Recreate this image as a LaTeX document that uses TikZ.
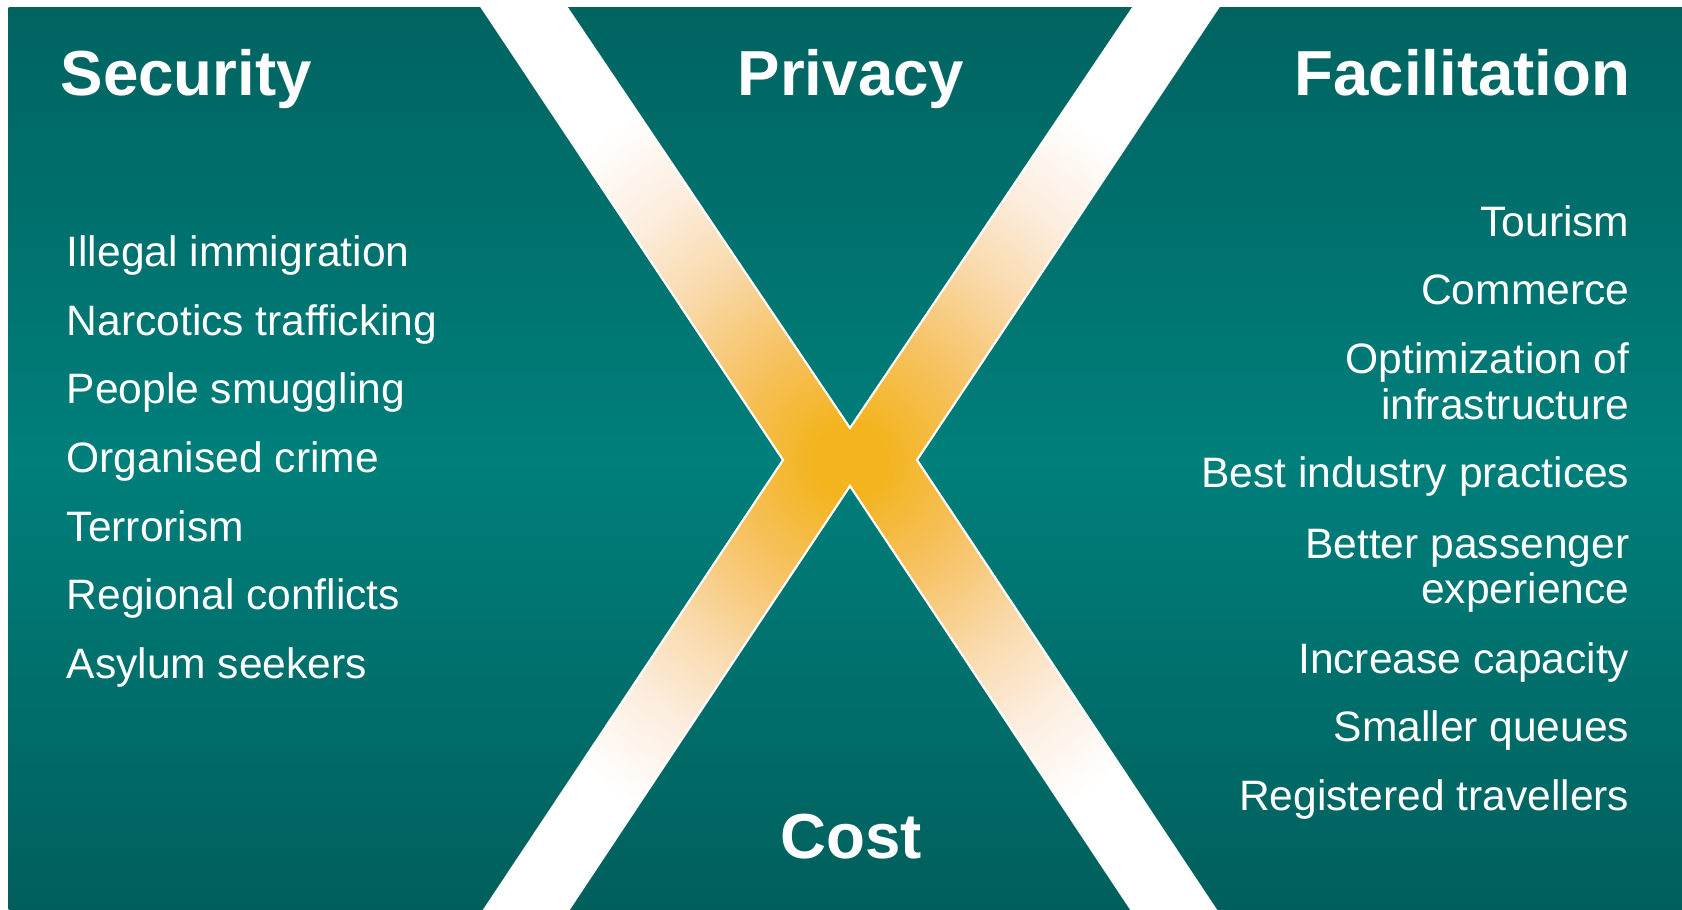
\documentclass[tikz,border=0pt]{standalone}
\usepackage{fontspec}
\setmainfont{Liberation Sans}
\definecolor{tealtop}{RGB}{0,99,96}
\definecolor{tealmid}{RGB}{0,127,123}
\definecolor{tealbot}{RGB}{0,95,92}
\definecolor{xorange}{RGB}{243,180,30}
\definecolor{xmid}{RGB}{246,194,100}
\definecolor{xpeach}{RGB}{249,218,172}
\definecolor{xpale}{RGB}{252,237,222}
\pgfdeclareradialshading{xglow}{\pgfpoint{0bp}{0bp}}{color(0bp)=(xorange); color(1.5bp)=(xorange); color(5.5bp)=(xmid); color(9.5bp)=(xpeach); color(13bp)=(xpale); color(17bp)=(white); color(50bp)=(white)}
\begin{document}
\begin{tikzpicture}[x=0.01cm,y=-0.01cm,
  title/.style={text=white, font=\fontsize{18.1}{20}\selectfont\bfseries, inner sep=0},
  item/.style={text=white, font=\fontsize{12.1}{13.2}\selectfont, inner sep=0},
  ritem/.style={item, anchor=base east},
  litem/.style={item, anchor=base west}]
\useasboundingbox (0,0) rectangle (1682,910);
\fill[white] (0,0) rectangle (1682,910);
\shade[top color=tealtop, bottom color=tealbot, middle color=tealmid] (8.5,7.3) rectangle (1682,910);
% the X
\begin{scope}
\clip (481.7,7.3) -- (566.7,7.3) -- (850,428) -- (1133.3,7.3) -- (1218.3,7.3) -- (917,460) -- (1216,910) -- (1131.5,910) -- (850,486) -- (568.5,910) -- (484,910) -- (783,460) -- cycle;
\shade[shading=xglow] (850,460) circle[radius=6cm];
\end{scope}
\draw[white, line width=0.6pt, line join=miter] (481.7,7.3) -- (566.7,7.3) -- (850,428) -- (1133.3,7.3) -- (1218.3,7.3) -- (917,460) -- (1216,910) -- (1131.5,910) -- (850,486) -- (568.5,910) -- (484,910) -- (783,460) -- cycle;
% titles
\node[title, anchor=base west] (sec) at (60,96) {Security};
\node[title, anchor=base] (priv) at (851,96) {Privacy};
\node[title, anchor=base east] (fac) at (1631,96) {Facilitation};
\node[title, anchor=base] (cost) at (851,858) {Cost};
% security items
\node[litem] (s1) at (66,266.7) {Illegal immigration};
\node[litem] (s2) at (66,335.3) {Narcotics trafficking};
\node[litem] (s3) at (66,404) {People smuggling};
\node[litem] (s4) at (66,472.7) {Organised crime};
\node[litem] (s5) at (66,541.3) {Terrorism};
\node[litem] (s6) at (66,610) {Regional conflicts};
\node[litem] (s7) at (66,678.7) {Asylum seekers};
% facilitation items
\node[ritem] (f1) at (1630,236.7) {Tourism};
\node[ritem] (f2) at (1630,305) {Commerce};
\node[ritem] (f3a) at (1630,373.3) {Optimization of};
\node[ritem] (f3b) at (1630,420) {infrastructure};
\node[ritem] (f4) at (1630,487.3) {Best industry practices};
\node[ritem] (f5a) at (1630,558.3) {Better passenger};
\node[ritem] (f5b) at (1630,603.3) {experience};
\node[ritem] (f6) at (1630,673.3) {Increase capacity};
\node[ritem] (f7) at (1630,741.7) {Smaller queues};
\node[ritem] (f8) at (1630,810) {Registered travellers};
\end{tikzpicture}
\end{document}
